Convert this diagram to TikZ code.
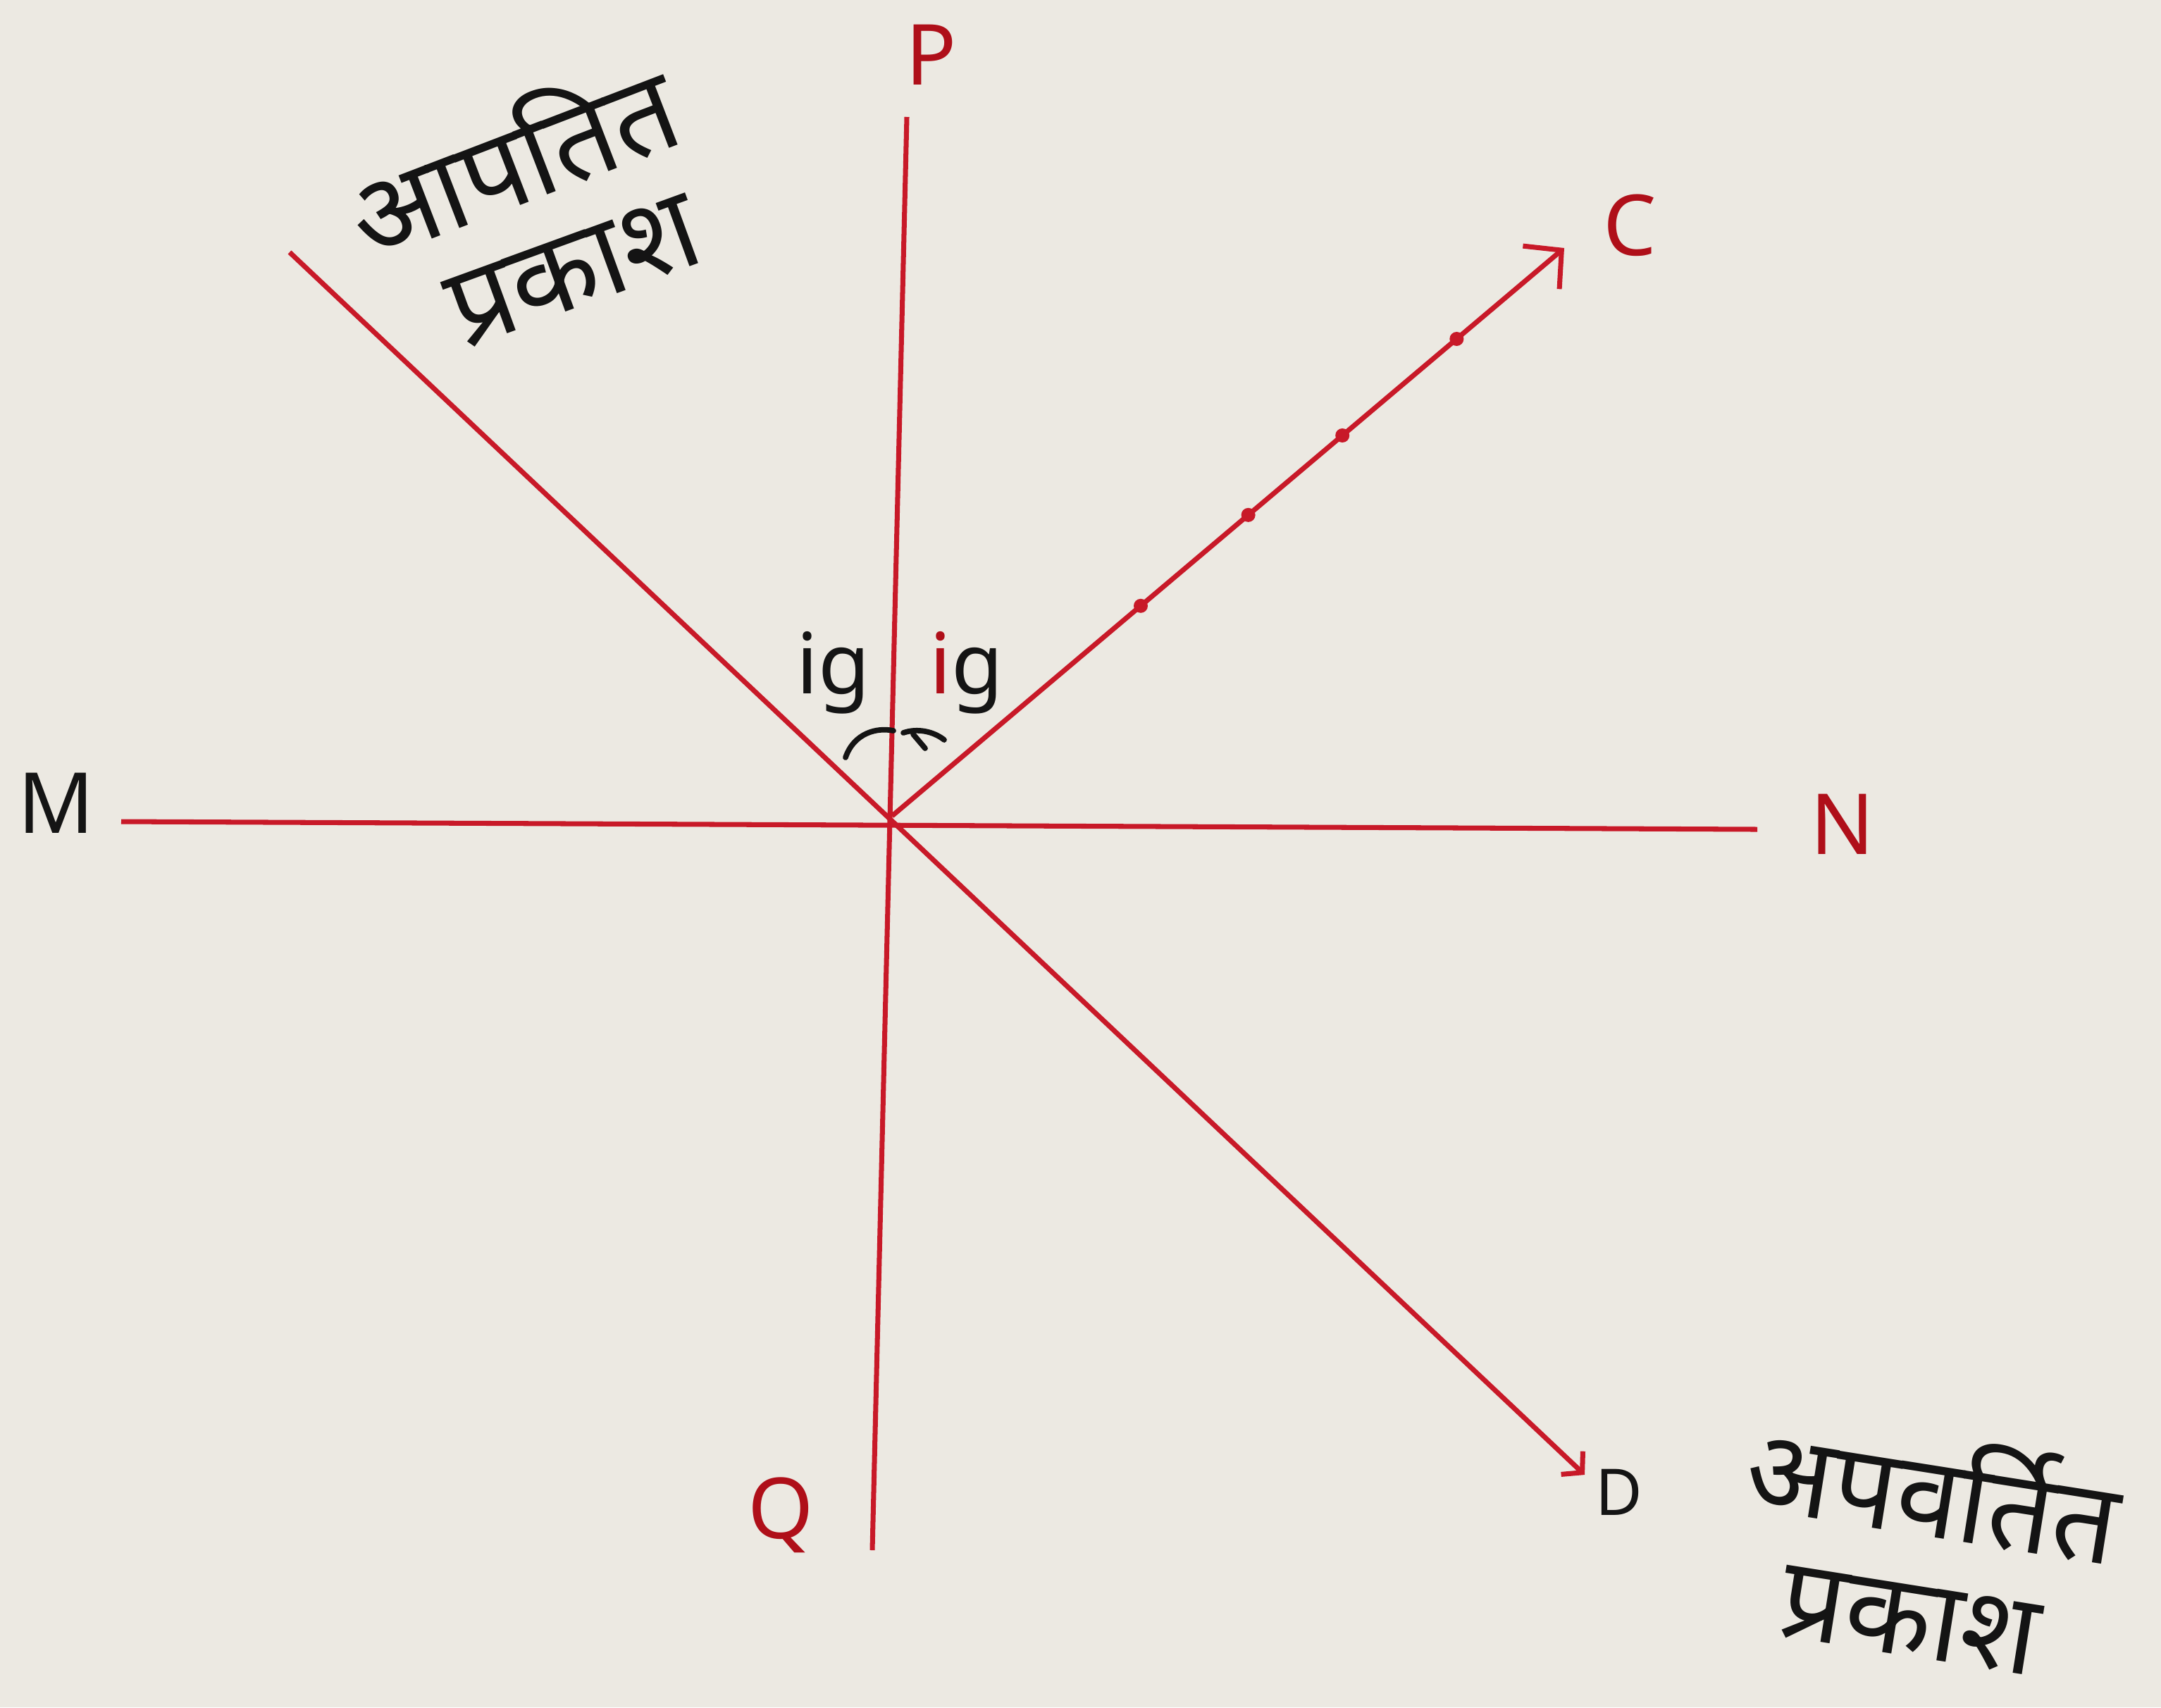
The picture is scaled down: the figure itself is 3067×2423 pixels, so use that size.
\documentclass[tikz,border=0pt]{standalone}
\usepackage{fontspec}
\setmainfont{Noto Sans}
\newfontfamily\deva[Script=Devanagari]{Noto Sans}
\usetikzlibrary{arrows.meta}
\definecolor{paper}{RGB}{236,233,226}
\definecolor{ray}{RGB}{200,25,40}
\definecolor{lab}{RGB}{175,15,25}
\definecolor{ink}{RGB}{20,20,20}
\begin{document}
\begin{tikzpicture}[x=0.01cm,y=0.01cm,
  rayline/.style={draw=ray, line width=2pt},
  lbl/.style={font=\fontsize{34}{40}\selectfont, text=lab, inner sep=0pt},
  hindi/.style={font=\deva\fontsize{46}{50}\selectfont, text=ink, inner sep=0pt},
  angl/.style={font=\fontsize{34}{38}\selectfont, text=ink, inner sep=0pt},
  arcline/.style={draw=ink, line width=2.2pt, line cap=round},
  dotmark/.style={circle, fill=ray, inner sep=0pt, minimum size=0.2cm}]
\fill[paper] (0,0) rectangle (3067,-2423);
\useasboundingbox (0,0) rectangle (3067,-2423);
% points
\coordinate (O) at (1266,-1158);
\coordinate (Ptop) at (1287,-166);
\coordinate (Qbot) at (1238,-2200);
\coordinate (Mend) at (172,-1166);
\coordinate (Nend) at (2494,-1177);
\coordinate (Itop) at (411,-358);
\coordinate (Dend) at (2249,-2093);
\coordinate (Cend) at (2220,-352);
% rays and lines
\draw[rayline] (Ptop) -- (Qbot);
\draw[rayline] (Mend) -- (Nend);
\draw[rayline, -{Straight Barb[length=0.2cm,width=0.45cm]}] (Itop) -- (Dend);
\draw[rayline, -{Straight Barb[length=0.38cm,width=0.8cm]}] (O) -- (Cend)
  node[dotmark,pos=0.37] (d1) {}
  node[dotmark,pos=0.53] (d2) {}
  node[dotmark,pos=0.67] (d3) {}
  node[dotmark,pos=0.84] (d4) {};
% angle arcs
\draw[arcline] (1200,-1075) .. controls (1212,-1040) and (1245,-1032) .. (1268,-1037);
\draw[arcline] (1282,-1040) .. controls (1302,-1033) and (1325,-1038) .. (1340,-1050);
\draw[arcline] (1296,-1042) -- (1313,-1062);
% labels
\node[lbl] (P) at (1322,-78) {P};
\node[lbl] (C) at (2313,-320) {C};
\node[lbl, text=ink] (M) at (80,-1140) {M};
\node[lbl] (N) at (2615,-1170) {N};
\node[lbl] (Q) at (1108,-2150) {Q};
\node[lbl, text=ink, font=\fontsize{26}{30}\selectfont] (D) at (2298,-2118) {D};
\node[angl] (ig1) at (1183,-955) {ig};
\node[angl] (ig2) at (1372,-955) {\textcolor{lab}{i}g};
% Hindi texts
\node[hindi, rotate=21] (t1) at (724,-220) {आपतित};
\node[hindi, rotate=20] (t2) at (815,-385) {प्रकाश};
\node[hindi, rotate=-9] (t3) at (2745,-2110) {अपवर्तित};
\node[hindi, rotate=-9] (t4) at (2710,-2300) {प्रकाश};
\end{tikzpicture}
\end{document}
